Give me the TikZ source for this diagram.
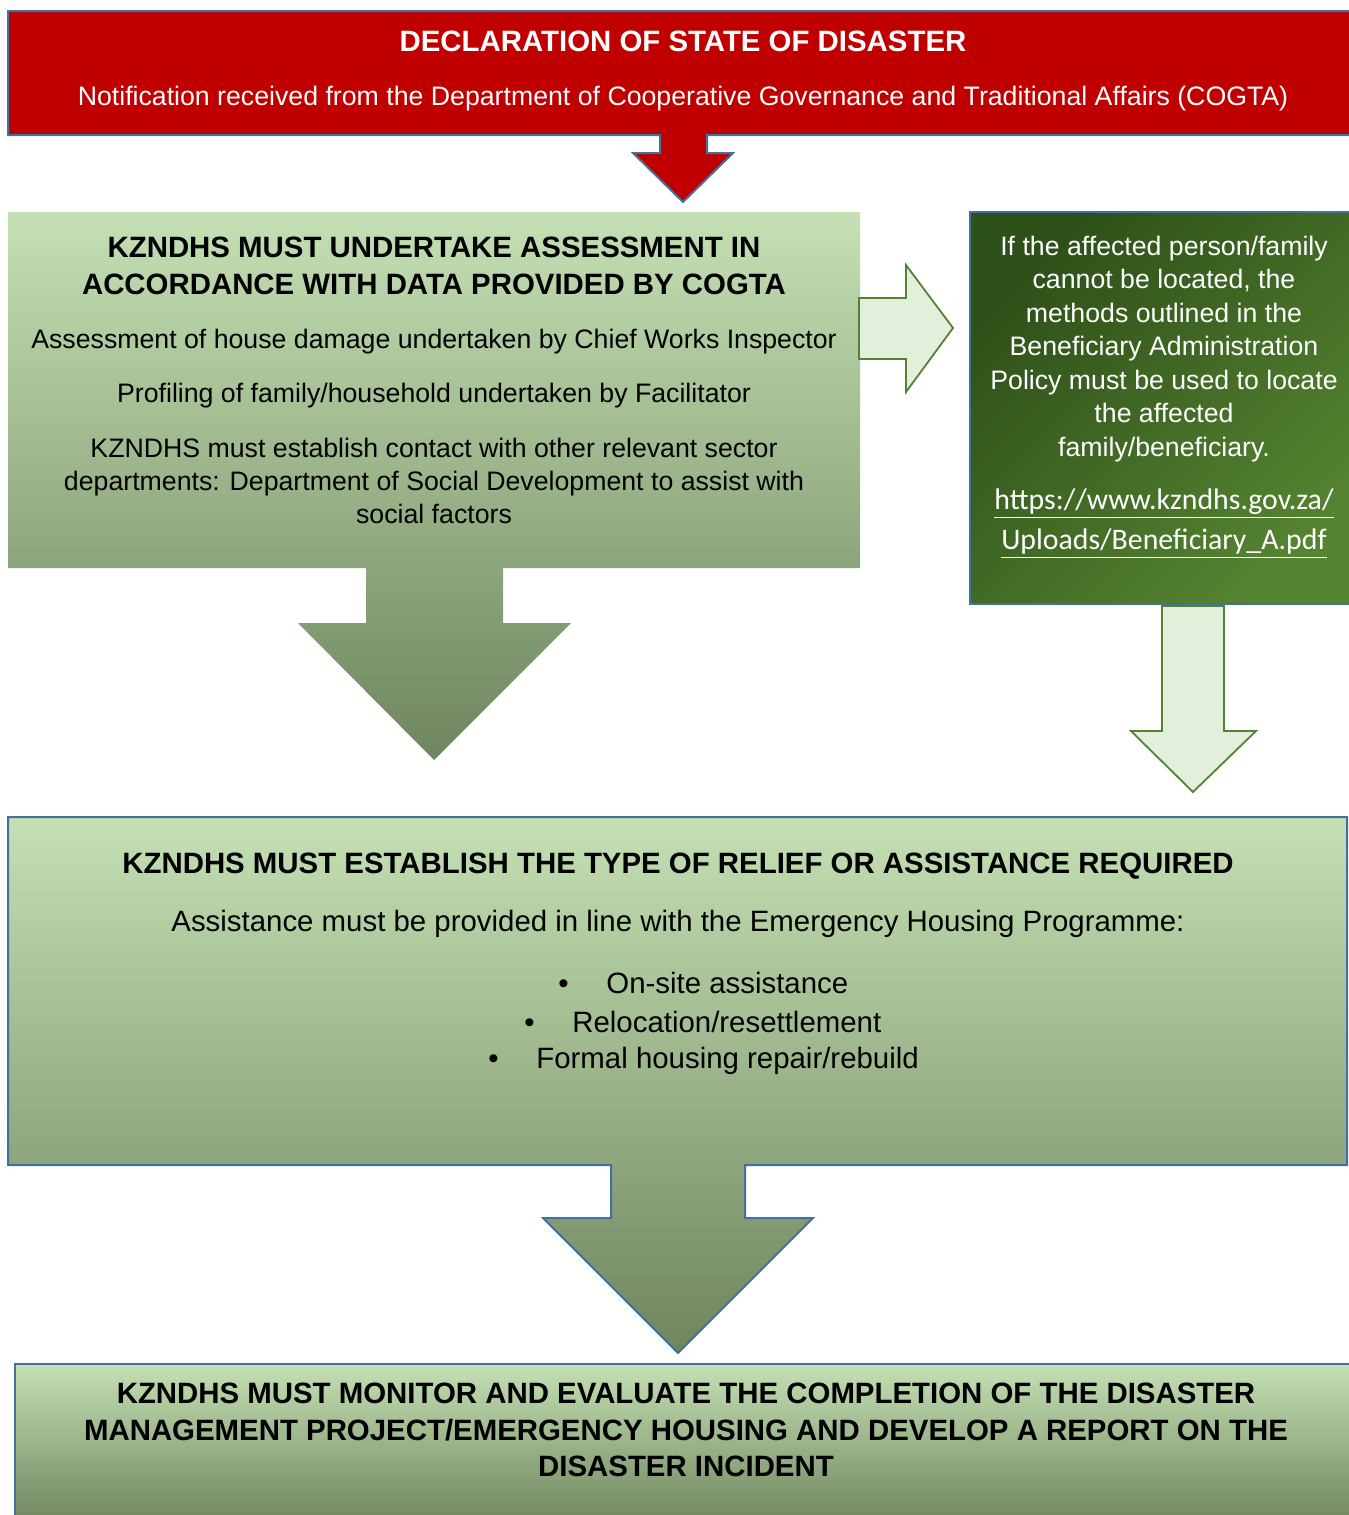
\documentclass[tikz,border=0pt]{standalone}
\usepackage{fontspec}
\setmainfont{Liberation Sans}
\newfontfamily\calib{Carlito}
\definecolor{redfill}{HTML}{C00000}
\definecolor{blueline}{HTML}{41719C}
\definecolor{lgtop}{HTML}{C5E0B4}
\definecolor{lgbot}{HTML}{6E855E}
\definecolor{dgA}{HTML}{2E5019}
\definecolor{dgB}{HTML}{558431}
\definecolor{palefill}{HTML}{E2EFDA}
\definecolor{paleline}{HTML}{548235}
\tikzset{
  boxline/.style={draw=blueline, line width=1pt, line join=miter},
  palearrow/.style={fill=palefill, draw=paleline, line width=0.9pt, line join=miter},
  txt/.style={inner sep=0pt, align=center, font=\fontsize{13.35}{16.6}\selectfont},
  sidetxt/.style={inner sep=0pt, align=center, font=\fontsize{13.35}{16.75}\selectfont},
  bigtxt/.style={inner sep=0pt, align=center, font=\fontsize{14.7}{19.5}\selectfont},
  ttl/.style={inner sep=0pt, align=center, font=\fontsize{14.7}{18.2}\selectfont\bfseries},
}
\begin{document}
\begin{tikzpicture}[x=0.5pt,y=-0.5pt]
\useasboundingbox (0,0) rectangle (1349,1515);
\begin{scope}
\clip (0,0) rectangle (1349,1515);
% red declaration box with arrow
\path[fill=redfill, boxline] (8,11) -- (1360,11) -- (1360,135) -- (707,135) -- (707,153) -- (733,153) -- (683,202) -- (633,153) -- (660,153) -- (660,135) -- (8,135) -- cycle;
% assessment box with arrow
\shade[top color=lgtop, bottom color=lgbot] (8,212) -- (860,212) -- (860,568) -- (503,568) -- (503,623) -- (571,623) -- (434,760) -- (298,623) -- (366,623) -- (366,568) -- (8,568) -- cycle;
% dark green side box
\shade[top color=dgA, bottom color=dgB, shading angle=45] (970,212) rectangle (1360,604);
\draw[boxline] (970,212) rectangle (1360,604);
% pale arrows
\path[palearrow] (859,298) -- (906,298) -- (906,265) -- (953,328) -- (906,392) -- (906,359) -- (859,359) -- cycle;
\path[palearrow] (1162,606) -- (1224,606) -- (1224,731) -- (1256,731) -- (1193,792) -- (1131,731) -- (1162,731) -- cycle;
% relief box with arrow
\shade[top color=lgtop, bottom color=lgbot] (8,817) -- (1347,817) -- (1347,1165) -- (745,1165) -- (745,1218) -- (813,1218) -- (678,1353) -- (543,1218) -- (611,1218) -- (611,1165) -- (8,1165) -- cycle;
\draw[boxline] (8,817) -- (1347,817) -- (1347,1165) -- (745,1165) -- (745,1218) -- (813,1218) -- (678,1353) -- (543,1218) -- (611,1218) -- (611,1165) -- (8,1165) -- cycle;
% monitor box
\shade[top color=lgtop, bottom color=lgbot] (15,1364) rectangle (1360,1525);
\draw[boxline] (15,1525) -- (15,1364) -- (1360,1364);
\end{scope}
% texts
\node[ttl, text=white] (t1) at (683,41) {DECLARATION OF STATE OF DISASTER};
\node[txt, text=white] (t2) at (683,99) {Notification received from the Department of Cooperative Governance and Traditional Affairs (COGTA)};
\node[ttl] (a1) at (434,266) {KZNDHS MUST UNDERTAKE ASSESSMENT IN\\ACCORDANCE WITH DATA PROVIDED BY COGTA};
\node[txt] (a2) at (434,342) {Assessment of house damage undertaken by Chief Works Inspector};
\node[txt] (a3) at (434,396) {Profiling of family/household undertaken by Facilitator};
\node[txt] (a4) at (434,481) {KZNDHS must establish contact with other relevant sector\\departments: Department of Social Development to assist with\\social factors};
\node[sidetxt, text=white] (s1) at (1164,349) {If the affected person/family\\cannot be located, the\\methods outlined in the\\Beneficiary Administration\\Policy must be used to locate\\the affected\\family/beneficiary.};
\node[inner sep=0pt, align=center, text=white, font=\calib\fontsize{14.9}{20}\selectfont] (s2) at (1164,524) {\underline{https://www.kzndhs.gov.za/}\\\underline{Uploads/Beneficiary\_A.pdf}};
\node[ttl] (r1) at (678,866) {KZNDHS MUST ESTABLISH THE TYPE OF RELIEF OR ASSISTANCE REQUIRED};
\node[bigtxt] (r2) at (678,924) {Assistance must be provided in line with the Emergency Housing Programme:};
\node[bigtxt, anchor=west] (b1) at (558,983) {\makebox[24pt][l]{\textbullet}On-site assistance};
\node[bigtxt, anchor=west] (b2) at (524,1022) {\makebox[24pt][l]{\textbullet}Relocation/resettlement};
\node[bigtxt, anchor=west] (b3) at (488,1061) {\makebox[24pt][l]{\textbullet}Formal housing repair/rebuild};
\node[ttl] (m1) at (686,1430) {KZNDHS MUST MONITOR AND EVALUATE THE COMPLETION OF THE DISASTER\\MANAGEMENT PROJECT/EMERGENCY HOUSING AND DEVELOP A REPORT ON THE\\DISASTER INCIDENT};
\end{tikzpicture}
\end{document}
